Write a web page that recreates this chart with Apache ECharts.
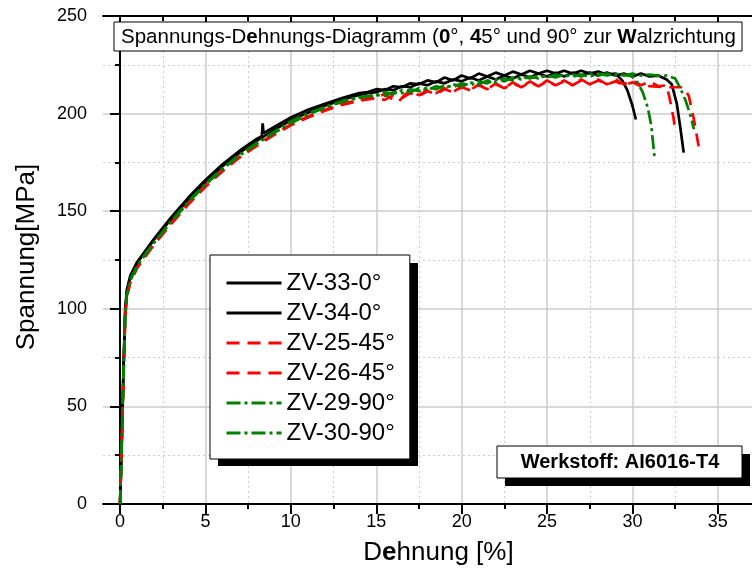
<!DOCTYPE html>
<html>
<head>
<meta charset="utf-8">
<script src="https://cdn.jsdelivr.net/npm/echarts@6/dist/echarts.min.js"></script>
<style>
  html, body { margin: 0; padding: 0; background: #fff; }
  #chart { width: 752px; height: 577px; }
</style>
</head>
<body>
<div id="chart"></div>
<script>
  // Dehnung [%] / Spannung [MPa] pairs
  const zv33 = [[0,0],[0.1,35],[0.2,70],[0.3,100],[0.4,110],[0.6,117],[1,124],[1.5,130],[2,136],[3,147],[4,157],[5,166],[6,174],[7,181],[8,187],[8.3,188.5],[8.35,195],[8.4,190],[9,193],[10,198],[11,202],[12,205],[13,208],[14,210.5],[14.5,211],[15,212.5],[15.5,212],[16,214],[16.5,213.5],[17,215.5],[17.5,215],[18,217],[18.5,216],[19,218.5],[19.5,217],[20,219.5],[20.5,218],[21,220.5],[21.5,219],[22,221],[22.5,219.5],[23,221.5],[23.5,220],[24,222],[24.5,220.5],[25,222],[25.5,220.5],[26,222],[26.5,220.5],[27,222],[27.5,220.5],[28,221.5],[28.5,220],[29,220.5],[29.4,217],[29.7,212],[30,204],[30.2,197]];
  const zv34 = [[0,0],[0.1,33],[0.2,68],[0.3,98],[0.4,109],[0.6,116],[1,123.5],[1.5,129.5],[2,135.5],[3,146],[4,156],[5,165],[6,173],[7,180],[8,186],[9,191.5],[10,196.5],[11,200.5],[12,204],[13,207],[14,209.5],[14.5,210.5],[15,211],[15.5,212.5],[16,212],[16.5,214],[17,213.5],[17.5,215.5],[18,214.5],[18.5,216.5],[19,215.5],[19.5,217.5],[20,216.5],[20.5,218.5],[21,217],[21.5,219],[22,217.5],[22.5,219.5],[23,218],[23.5,220],[24,218.5],[24.5,220.5],[25,219],[25.5,221],[26,219],[26.5,221],[27,219.5],[27.5,221],[28,219.5],[28.5,221],[29,219.5],[29.5,220.5],[30,219],[30.5,220.5],[31,219],[31.5,219.5],[32,217.5],[32.3,215],[32.6,205],[32.8,193],[33,180]];
  const zv25 = [[0,0],[0.1,32],[0.2,66],[0.3,97],[0.4,107],[0.6,114],[1,121],[1.5,127.5],[2,133],[3,144],[4,154],[5,163],[6,171],[7,178],[8,184],[9,189.5],[10,194.5],[11,198.5],[12,202],[13,205],[14,207],[15,208.5],[15.5,210],[16,207],[16.3,206],[16.7,210],[17,211],[17.5,209.5],[18,212],[18.5,210.5],[19,213],[19.5,211],[20,214],[20.5,212],[21,215],[21.5,212.5],[22,215.5],[22.5,213],[23,216],[23.5,213.5],[24,216.5],[24.5,214],[25,217],[25.5,214.5],[26,217],[26.5,214.5],[27,217.5],[27.5,215],[28,217.5],[28.5,215],[29,217.5],[29.5,215],[30,217],[30.5,214.5],[31,216.5],[31.5,214],[32,214.5],[32.2,207],[32.4,198],[32.5,192]];
  const zv26 = [[0,0],[0.1,30],[0.2,64],[0.3,95],[0.4,106],[0.6,113.5],[1,121],[1.5,127],[2,133],[3,143.5],[4,153.5],[5,162.5],[6,170.5],[7,177.5],[8,183.5],[9,189],[10,194],[11,198],[12,201.5],[13,204.5],[14,206.5],[15,208],[15.5,207],[16,209.5],[16.5,208],[17,210.5],[17.5,209],[18,211.5],[18.5,210],[19,212.5],[19.5,211],[20,213.5],[20.5,212],[21,214.5],[21.5,212.5],[22,215],[22.5,213],[23,215.5],[23.5,213.5],[24,216],[24.5,214],[25,216.5],[25.5,214.5],[26,216.5],[26.5,214.5],[27,217],[27.5,215],[28,217],[28.5,215],[29,216.5],[29.5,214.5],[30,216],[30.5,214],[31,214],[32,213.5],[33,213.5],[33.3,209],[33.6,197],[33.9,182]];
  const zv29 = [[0,0],[0.1,33],[0.2,67],[0.3,98],[0.4,108],[0.6,115],[1,122],[1.5,128.5],[2,134],[3,145],[4,155],[5,164],[6,172],[7,179],[8,185],[9,190.5],[10,196],[11,200],[12,203.5],[13,206.5],[14,208.5],[15,209.5],[15.5,211],[16,210],[16.5,212],[17,211],[17.5,213],[18,212],[18.5,214],[19,213],[19.5,215],[20,214],[20.5,216],[21,215],[21.5,217],[22,216],[22.5,218],[23,217],[23.5,219],[24,218],[24.5,219.5],[25,218.5],[25.5,220],[26,219],[26.5,220],[27,219],[27.5,220.5],[28,219.5],[28.5,220.5],[29,219.5],[29.5,220],[30,219],[30.3,216],[30.6,211],[30.9,203],[31.1,194],[31.3,177]];
  const zv30 = [[0,0],[0.1,31],[0.2,65],[0.3,96],[0.4,107],[0.6,114.5],[1,122],[1.5,128],[2,134],[3,144.5],[4,154.5],[5,163.5],[6,171.5],[7,178.5],[8,184.5],[9,190],[10,195],[11,199.5],[12,203],[13,206],[14,208],[15,209.5],[15.5,209],[16,211],[16.5,210.5],[17,212.5],[17.5,211.5],[18,213.5],[18.5,212.5],[19,214.5],[19.5,213.5],[20,215.5],[20.5,214.5],[21,216.5],[21.5,215.5],[22,217.5],[22.5,216.5],[23,218.5],[23.5,217.5],[24,219],[24.5,218],[25,219.5],[25.5,218.5],[26,220],[26.5,219],[27,220],[27.5,219],[28,220.5],[28.5,219.5],[29,220.5],[29.5,219.5],[30,220.5],[30.5,219.5],[31,220],[31.5,219.5],[32,219.5],[32.5,218],[32.8,213],[33.1,207],[33.4,199],[33.6,192]];

  const seriesNames = ['ZV-33-0°', 'ZV-34-0°', 'ZV-25-45°', 'ZV-26-45°', 'ZV-29-90°', 'ZV-30-90°'];
  const xMajor = [0, 5, 10, 15, 20, 25, 30, 35];
  const xMinor = [2.5, 7.5, 12.5, 17.5, 22.5, 27.5, 32.5];

  const font = '"Liberation Sans", Arial, sans-serif';
  const gridColor = '#cccccc';

  const myChart = echarts.init(document.getElementById('chart'));

  function lineSeries(name, data, color, dash) {
    return {
      name: name,
      type: 'line',
      data: data,
      showSymbol: false,
      symbol: 'none',
      xAxisIndex: 0,
      lineStyle: { color: color, width: 2.7, type: dash },
      itemStyle: { color: color },
      animation: false
    };
  }

  function xAx(position, opts) {
    return Object.assign({
      type: 'value',
      position: position,
      min: -1,
      max: 37,
      splitNumber: 8,
      axisLine: { show: false },
      axisTick: { show: false },
      axisLabel: { show: false },
      splitLine: { show: false }
    }, opts);
  }

  let option = {
    animation: false,
    grid: { left: 103, right: -1, top: 16, bottom: 73 },
    xAxis: [
      xAx('bottom', {
        name: 'D{b|e}hnung [%]',
        nameLocation: 'middle',
        nameGap: 36,
        nameTextStyle: {
          fontFamily: font, fontSize: 26, color: '#000', padding: [0, 0, 0, 22],
          rich: { b: { fontFamily: font, fontSize: 26, fontWeight: 'bold', color: '#000' } }
        },
        axisLine: { show: true, onZero: false, lineStyle: { color: '#000', width: 2 } },
        axisTick: { show: true, customValues: xMajor, length: 10, lineStyle: { color: '#000', width: 2 } },
        axisLabel: {
          show: true, customValues: xMajor, margin: 9,
          fontFamily: font, fontSize: 18, color: '#000',
          formatter: v => (v % 5 === 0 ? String(v) : '')
        },
        splitLine: { show: true, lineStyle: { color: gridColor, width: 1.5 } }
      }),
      xAx('bottom', {
        axisTick: { show: true, customValues: xMinor, length: 5, lineStyle: { color: '#000', width: 2 } },
        splitLine: { show: true, lineStyle: { color: gridColor, width: 1, type: [2, 3] } }
      }),
      xAx('top', {
        axisLine: { show: true, onZero: false, lineStyle: { color: '#000', width: 2 } },
        axisTick: { show: true, inside: true, customValues: xMajor, length: 9, lineStyle: { color: '#000', width: 2 } }
      }),
      xAx('top', {
        axisTick: { show: true, inside: true, customValues: xMinor, length: 5, lineStyle: { color: '#000', width: 2 } }
      })
    ],
    yAxis: {
      type: 'value',
      min: 0,
      max: 250,
      interval: 50,
      name: 'Spannung[MPa]',
      nameLocation: 'middle',
      nameGap: 63,
      nameTextStyle: { fontFamily: font, fontSize: 26, color: '#000', padding: [0, 0, 0, 6] },
      axisLine: { show: true, lineStyle: { color: '#000', width: 2 } },
      axisTick: { show: true, length: 10, lineStyle: { color: '#000', width: 2 } },
      minorTick: { show: true, splitNumber: 2, length: 5, lineStyle: { color: '#000', width: 2 } },
      axisLabel: { margin: 16, fontFamily: font, fontSize: 18, color: '#000' },
      splitLine: { show: true, lineStyle: { color: gridColor, width: 1.5 } },
      minorSplitLine: { show: true, lineStyle: { color: gridColor, width: 1, type: [2, 3] } }
    },
    legend: {
      left: 210,
      top: 255,
      orient: 'vertical',
      itemWidth: 55,
      itemHeight: 14,
      itemGap: 6,
      padding: [16, 15, 14, 15],
      backgroundColor: '#fff',
      borderColor: '#000',
      borderWidth: 1,
      z: 5,
      itemStyle: { opacity: 0 },
      lineStyle: { width: 3 },
      textStyle: { fontFamily: font, fontSize: 24, lineHeight: 24, color: '#000' },
      data: seriesNames
    },
    graphic: [
      // legend shadow
      { type: 'rect', z: 3, shape: { x: 218, y: 263, width: 200, height: 203 }, style: { fill: '#000' } },
      // header box
      { type: 'rect', z: 3, shape: { x: 114, y: 22, width: 628, height: 29 }, style: { fill: '#fff', stroke: '#000', lineWidth: 1 } },
      {
        type: 'text', z: 4, x: 121, y: 37,
        style: {
          text: 'Spannungs-D{b|e}hnungs-Diagramm ({b|0}°, {b|4}5° und 90° zur {b|W}alzrichtung',
          font: '20.5px ' + font, fill: '#000', verticalAlign: 'middle', align: 'left',
          rich: { b: { fontFamily: font, fontSize: 20.5, fontWeight: 'bold', fill: '#000' } }
        }
      },
      // material box
      { type: 'rect', z: 3, shape: { x: 505, y: 454, width: 245, height: 32 }, style: { fill: '#000' } },
      { type: 'rect', z: 3, shape: { x: 497, y: 446, width: 245, height: 32 }, style: { fill: '#fff', stroke: '#000', lineWidth: 1 } },
      {
        type: 'text', z: 4, x: 620, y: 462,
        style: { text: 'Werkstoff: AI6016-T4', font: 'bold 20px ' + font, fill: '#000', align: 'center', verticalAlign: 'middle' }
      }
    ],
    series: [
      lineSeries(seriesNames[0], zv33, '#000000', 'solid'),
      lineSeries(seriesNames[1], zv34, '#000000', 'solid'),
      lineSeries(seriesNames[2], zv25, '#ff0000', [13, 8]),
      lineSeries(seriesNames[3], zv26, '#ff0000', [13, 8]),
      lineSeries(seriesNames[4], zv29, '#008000', [14, 4, 3, 4]),
      lineSeries(seriesNames[5], zv30, '#008000', [14, 4, 3, 4])
    ]
  };
  option && myChart.setOption(option);
</script>
</body>
</html>
